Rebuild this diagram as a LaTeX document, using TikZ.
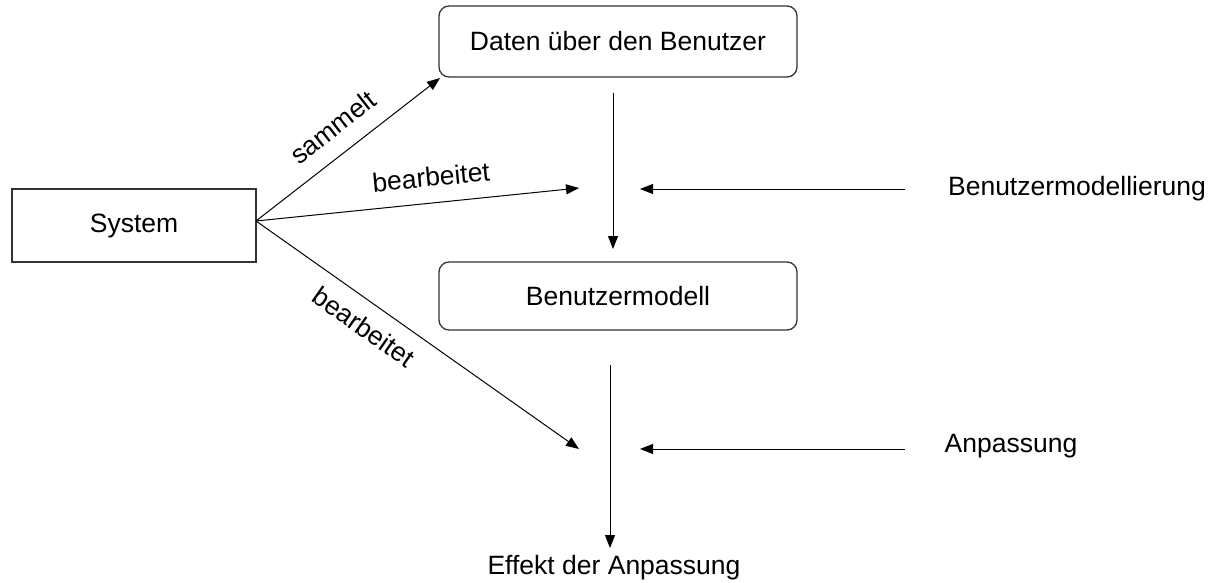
\documentclass[tikz,border=0pt]{standalone}
\usepackage{fontspec}
\setmainfont{Liberation Sans}
\usetikzlibrary{arrows.meta}
\begin{document}
\begin{tikzpicture}[x=1pt,y=1pt,
  every node/.style={font=\fontsize{26.5}{30}\selectfont, inner sep=0pt},
  plainbox/.style={draw=black!80, line width=1.3pt, rectangle},
  roundbox/.style={draw=black!80, line width=1.3pt, rectangle, rounded corners=10pt},
  conn/.style={line width=1pt, -{Triangle[length=13pt,width=10pt]}}]
\useasboundingbox (0,0) rectangle (1212,-583);
% boxes
\node[plainbox, minimum width=244pt, minimum height=73pt] (sys) at (134,-225.5) {System};
\node[roundbox, minimum width=358pt, minimum height=71pt] (daten) at (618,-41.5) {Daten über den Benutzer};
\node[roundbox, minimum width=358pt, minimum height=68pt] (model) at (618,-296) {Benutzermodell};
% texts
\node (bm) at (1077,-189) {Benutzermodellierung};
\node (anp) at (1011,-446) {Anpassung};
\node (eff) at (614,-568) {Effekt der Anpassung};
% coordinates
\coordinate (hub) at (256,-221);
\coordinate (tipS) at (440,-78);
\coordinate (tipB1) at (579,-188);
\coordinate (tipB2) at (579,-449);
\coordinate (v1a) at (613,-93);
\coordinate (v1b) at (613,-249);
\coordinate (v2a) at (610,-365);
\coordinate (v2b) at (610,-548);
\coordinate (h1a) at (905,-189);
\coordinate (h1b) at (640,-189);
\coordinate (h2a) at (905,-449);
\coordinate (h2b) at (640,-449);
% connectors
\draw[conn] (hub) -- (tipS);
\draw[conn] (hub) -- (tipB1);
\draw[conn] (hub) -- (tipB2);
\draw[conn] (v1a) -- (v1b);
\draw[conn] (v2a) -- (v2b);
\draw[conn] (h1a) -- (h1b);
\draw[conn] (h2a) -- (h2b);
% labels
\node[rotate=38] (lS) at (333,-127) {sammelt};
\node[rotate=5.5] (lB1) at (431,-177) {bearbeitet};
\node[rotate=-35] (lB2) at (364,-327) {bearbeitet};
\end{tikzpicture}
\end{document}
